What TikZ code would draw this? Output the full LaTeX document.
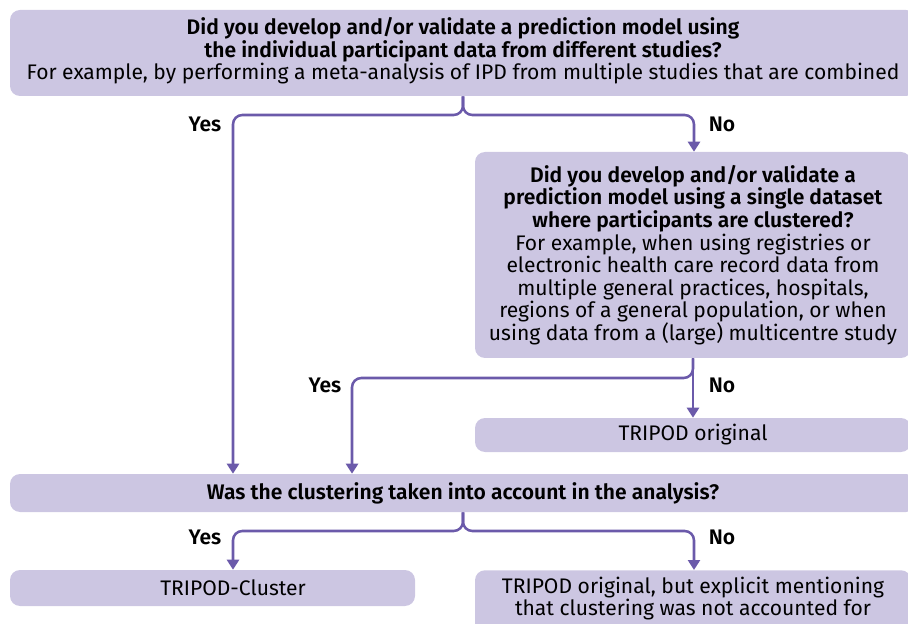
\documentclass[tikz,border=0pt]{standalone}
\usepackage{fontspec}
\setmainfont{Fira Sans}[BoldFont={Fira Sans SemiBold}]
\usetikzlibrary{arrows.meta}
\definecolor{boxfill}{HTML}{CCC6E2}
\definecolor{linecol}{HTML}{6B5AAA}

\begin{document}
\begin{tikzpicture}[x=0.75pt,y=-0.75pt,
  box/.style={fill=boxfill,rounded corners=7.5pt,inner sep=0pt,align=center,font=\fontsize{15.8}{16.9}\selectfont},
  flow/.style={draw=linecol,line width=1.9pt,rounded corners=7pt,-{Triangle[width=9pt,length=7.5pt]}},
  answer/.style={font=\bfseries\fontsize{15.8}{16}\selectfont}]

  \clip (0,0) rectangle (908,624);

  % questions
  \node[box,minimum width=679.5pt,minimum height=64.5pt] (1) at (463,53)
    {\textbf{Did you develop and/or validate a prediction model using}\\
     \textbf{the individual participant data from different studies?}\\
     For example, by performing a meta-analysis of IPD from multiple studies that are combined\vspace{3pt}};
  \node[box,minimum width=327pt,minimum height=154.5pt] (2) at (693,255)
    {\textbf{Did you develop and/or validate a}\\
     \textbf{prediction model using a single dataset}\\
     \textbf{where participants are clustered?}\\
     For example, when using registries or\\
     electronic health care record data from\\
     multiple general practices, hospitals,\\
     regions of a general population, or when\\
     using data from a (large) multicentre study};
  \node[box,minimum width=679.5pt,minimum height=28.5pt] (3) at (463,493)
    {\textbf{Was the clustering taken into account in the analysis?}};

  % outcomes
  \node[box,minimum width=327pt,minimum height=25.5pt] (orig) at (693,435) {TRIPOD original};
  \node[box,minimum width=303.75pt,minimum height=27pt] (clbox) at (212.5,588) {};
  \node[font=\fontsize{15.8}{16.9}\selectfont] (cl) at (233,588) {TRIPOD-Cluster};
  \node[box,minimum width=327pt,anchor=north,inner ysep=5pt,text depth=40pt] (expl) at (693,570)
    {TRIPOD original, but explicit mentioning\\
     that clustering was not accounted for};

  % answers
  \node[answer] (yes1) at (205,124) {Yes};
  \node[answer] (no1) at (722,124) {No};
  \node[answer] (yes2) at (325,385) {Yes};
  \node[answer] (no2) at (722,385) {No};
  \node[answer] (yes3) at (205,537) {Yes};
  \node[answer] (no3) at (722,537) {No};

  \coordinate (y1) at (233,115);
  \coordinate (n1) at (694,115);
  \coordinate (y2) at (352,378);
  \coordinate (y3) at (233,531);
  \coordinate (n3) at (694,531);

  \draw[flow] (1.south) |- (y1) -- (y1 |- 3.north);
  \draw[flow] (1.south) |- (n1) -- (n1 |- 2.north);
  \draw[flow] (2.south) |- (y2) -- (y2 |- 3.north);
  \draw[flow] (2.south) -- (orig.north);
  \draw[flow] (3.south) |- (y3) -- (y3 |- clbox.north);
  \draw[flow] (3.south) |- (n3) -- (n3 |- expl.north);
\end{tikzpicture}
\end{document}
